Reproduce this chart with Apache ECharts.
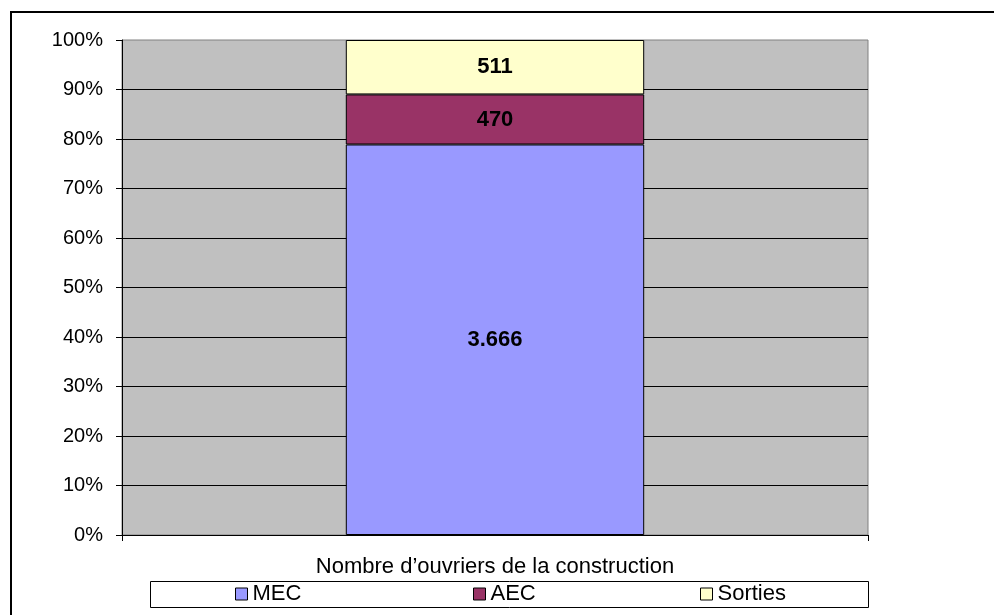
<!DOCTYPE html>
<html>
<head>
<meta charset="utf-8">
<script src="https://cdn.jsdelivr.net/npm/echarts@6/dist/echarts.min.js"></script>
<style>
  html, body { margin: 0; padding: 0; background: #fff; }
  #chartBox { width: 994px; height: 615px; }
</style>
</head>
<body>
<div id="chartBox"></div>
<script>
  // données
  var categories = ['Nombre d\u2019ouvriers de la construction'];
  var seriesNames = ['MEC', 'AEC', 'Sorties'];
  var mecValues = [3666];
  var aecValues = [470];
  var sortiesValues = [511];
  var yTicks = [0, 10, 20, 30, 40, 50, 60, 70, 80, 90, 100];

  var colors = ['#9999FF', '#993366', '#FFFFCC'];
  var font = 'Liberation Sans, Arial, sans-serif';
  var rawValues = [mecValues, aecValues, sortiesValues];

  // total par catégorie -> pourcentages (100% empilé)
  var totals = categories.map(function (c, i) {
    return mecValues[i] + aecValues[i] + sortiesValues[i];
  });

  function fmt(n) {
    return String(n).replace(/\B(?=(\d{3})+(?!\d))/g, '.');
  }

  var chart = echarts.init(document.getElementById('chartBox'));

  var series = seriesNames.map(function (name, s) {
    return {
      name: name,
      type: 'bar',
      stack: 'total',
      barWidth: '40%',
      data: rawValues[s].map(function (v, i) { return v / totals[i] * 100; }),
      itemStyle: { color: colors[s], borderColor: '#000', borderWidth: 1 },
      label: {
        show: true,
        position: 'inside',
        color: '#000',
        fontWeight: 'bold',
        fontSize: 22,
        fontFamily: font,
        formatter: function (p) { return fmt(rawValues[s][p.dataIndex]); }
      }
    };
  });

  // une légende par série pour placer chaque item comme dans l'original
  var legendLeft = [235, 473, 700];
  var legends = seriesNames.map(function (name, s) {
    return {
      data: [name],
      left: legendLeft[s],
      top: 583,
      padding: 0,
      icon: 'rect',
      itemWidth: 12,
      itemHeight: 12,
      itemStyle: { borderColor: '#000', borderWidth: 1 },
      selectedMode: false,
      textStyle: { color: '#000', fontSize: 22, fontFamily: font }
    };
  });

  var option = {
    animation: false,
    legend: legends,
    grid: {
      left: 122,
      right: 126,
      top: 40,
      bottom: 80,
      show: true,
      backgroundColor: '#C0C0C0',
      borderColor: '#808080',
      borderWidth: 1
    },
    xAxis: {
      type: 'category',
      data: categories,
      axisLine: { lineStyle: { color: '#000', width: 1 } },
      axisTick: { show: true, length: 6, lineStyle: { color: '#000' } },
      axisLabel: { color: '#000', fontSize: 22, fontFamily: font, margin: 21 }
    },
    yAxis: {
      type: 'value',
      min: yTicks[0],
      max: yTicks[yTicks.length - 1],
      interval: yTicks[1] - yTicks[0],
      axisLine: { show: true, lineStyle: { color: '#000', width: 1 } },
      axisTick: { show: true, length: 6, lineStyle: { color: '#000' } },
      axisLabel: { color: '#000', fontSize: 20, fontFamily: font, margin: 19, formatter: '{value}%' },
      splitLine: { show: true, showMaxLine: false, lineStyle: { color: '#000', width: 1 } }
    },
    graphic: [
      { // cadre de la légende
        type: 'rect',
        shape: { x: 150.5, y: 581.5, width: 718, height: 26 },
        style: { fill: 'none', stroke: '#000', lineWidth: 1 },
        z: 1
      },
      { // cadre extérieur
        type: 'rect',
        shape: { x: 11, y: 12, width: 1000, height: 700 },
        style: { fill: 'none', stroke: '#000', lineWidth: 2 },
        z: 1
      }
    ],
    series: series
  };

  chart.setOption(option);
  window.onresize = chart.resize;
</script>
</body>
</html>
